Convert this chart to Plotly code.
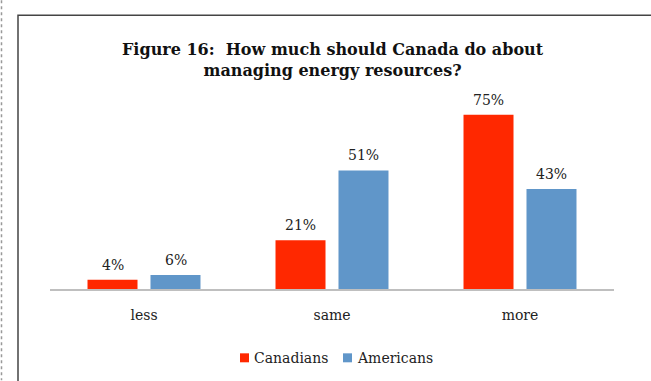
import plotly.graph_objects as go

categories = ["less", "same", "more"]
canadians = [4, 21, 75]
americans = [6, 51, 43]
series_names = ["Canadians", "Americans"]
title_lines = ["Figure 16:  How much should Canada do about", "managing energy resources?"]

W, H = 651, 381
ML, MR, MT, MB = 50, 37, 103, 91.5
PW, PH = W - ML - MR, H - MT - MB

RED = "#FF2800"
BLUE = "#6096C9"
FONT = "DejaVu Serif"
TEXT = "#222"


def px_x(px):
    return (px - ML) / PW


def px_y(py):
    return (H - MB - py) / PH


series = [(series_names[0], canadians, RED), (series_names[1], americans, BLUE)]

fig = go.Figure()
for name, vals, color in series:
    fig.add_trace(go.Bar(
        name=name, x=categories, y=vals, showlegend=False,
        marker=dict(color=color, line=dict(width=0)),
    ))

# value labels above each bar
annotations = []
for (name, vals, color), shift in zip(series, (-31.5, 31.5)):
    for c, v in zip(categories, vals):
        annotations.append(dict(
            x=c, y=v, xref="x", yref="y", text=f"{v}%", showarrow=False,
            xshift=shift, yshift=5, yanchor="bottom",
            font=dict(family=FONT, size=14, color=TEXT),
        ))

# chart title
annotations.append(dict(
    x=px_x(333), y=px_y(60), xref="paper", yref="paper",
    text="<b>" + "<br>".join(title_lines) + "</b>", showarrow=False,
    xanchor="center", yanchor="middle",
    font=dict(family=FONT, size=16, color="#111"),
))

shapes = [
    # outer frame
    dict(type="rect", xref="paper", yref="paper",
         x0=px_x(18), x1=px_x(W + 10), y0=px_y(H + 10), y1=px_y(15),
         line=dict(color="#444", width=1.5), fillcolor="rgba(0,0,0,0)", layer="below"),
    # dotted margin line
    dict(type="line", xref="paper", yref="paper",
         x0=px_x(1.5), x1=px_x(1.5), y0=px_y(0), y1=px_y(H),
         line=dict(color="#999", width=1.5, dash="dot")),
]

# legend: small square key followed by the series name
legend_keys_x = [240, 343]
legend_y = 358.5
for (name, vals, color), kx in zip(series, legend_keys_x):
    shapes.append(dict(type="rect", xref="paper", yref="paper",
                       x0=px_x(kx), x1=px_x(kx + 9),
                       y0=px_y(legend_y + 4.5), y1=px_y(legend_y - 4.5),
                       fillcolor=color, line=dict(width=0)))
    annotations.append(dict(
        x=px_x(kx + 11.5), y=px_y(legend_y), xref="paper", yref="paper",
        text=name, showarrow=False, xanchor="left", yanchor="middle",
        font=dict(family=FONT, size=14, color=TEXT),
    ))

fig.update_layout(
    width=W, height=H,
    margin=dict(l=ML, r=MR, t=MT, b=MB, pad=0, autoexpand=False),
    paper_bgcolor="white", plot_bgcolor="white",
    barmode="group", bargap=0.33, bargroupgap=0.206,
    showlegend=False,
    xaxis=dict(showline=True, linecolor="#BFBFBF", linewidth=1.5, ticks="outside",
               ticklen=12, tickcolor="rgba(0,0,0,0)", showgrid=False,
               tickfont=dict(family=FONT, size=14, color=TEXT)),
    yaxis=dict(range=[0, 80], visible=False, showgrid=False),
    annotations=annotations,
    shapes=shapes,
)

fig.write_html("out.html")
